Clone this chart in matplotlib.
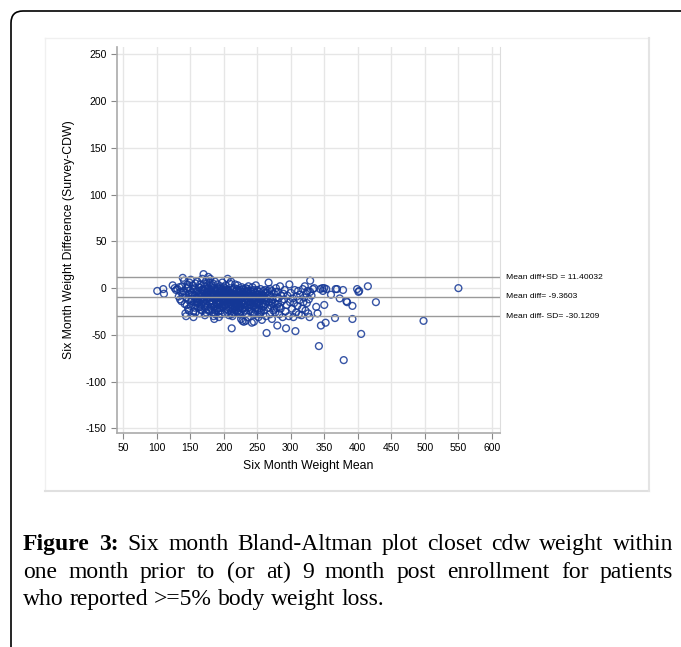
import numpy as np
import matplotlib.pyplot as plt
from matplotlib.patches import FancyBboxPatch
from matplotlib.lines import Line2D
from matplotlib.transforms import IdentityTransform

plt.rcParams['axes.unicode_minus'] = False

# DATOS (leidos a ojo del grafico)

mean_wt = [
    101, 110, 111, 124, 127, 129,
    131, 133, 134, 135, 136, 137, 138, 139, 139,
    140, 141, 142, 143, 144, 144, 145, 146, 147, 148, 148, 149,
    150, 151, 151, 152, 153, 154, 155, 155, 156, 157, 157, 158, 158, 159,
    160, 161, 161, 162, 163, 163, 164, 165, 165, 166, 167, 167, 168, 168, 169, 169, 160, 164,
    170, 170, 171, 171, 172, 172, 173, 173, 174, 174, 175, 175, 176, 176, 177, 177, 178, 178, 179, 179, 172, 176,
    180, 180, 181, 181, 182, 182, 183, 183, 184, 184, 185, 185, 186, 186, 187, 187, 188, 188, 189, 189, 183, 186, 181, 188,
    190, 190, 191, 191, 192, 192, 193, 193, 194, 194, 195, 195, 196, 196, 197, 197, 198, 198, 199, 199, 191, 195, 193, 197, 199, 190,
    200, 200, 201, 201, 202, 202, 203, 203, 204, 204, 205, 205, 206, 206, 207, 207, 208, 208, 209, 209, 201, 204, 207, 209, 203, 206,
    210, 210, 211, 211, 212, 212, 213, 213, 214, 214, 215, 215, 216, 216, 217, 217, 218, 218, 219, 219, 212, 215, 218, 213, 217, 211,
    220, 220, 221, 221, 222, 222, 223, 223, 224, 224, 225, 225, 226, 226, 227, 227, 228, 228, 229, 229, 223, 226, 228, 221,
    230, 230, 231, 231, 232, 232, 233, 233, 234, 234, 235, 235, 236, 236, 237, 237, 238, 238, 239, 239, 233, 236,
    240, 240, 241, 241, 242, 242, 243, 243, 244, 244, 245, 245, 246, 246, 247, 247, 248, 248, 249, 249,
    250, 250, 251, 251, 252, 252, 253, 253, 254, 255, 255, 256, 257, 257, 258, 259, 259, 254,
    260, 260, 261, 262, 262, 263, 264, 265, 265, 266, 267, 268, 269, 269,
    270, 271, 272, 272, 273, 274, 275, 276, 277, 278, 279, 279,
    280, 281, 281, 282, 283, 284, 285, 286, 287, 288, 289,
    290, 291, 292, 293, 294, 295, 297, 298, 299,
    300, 302, 303, 304, 305, 306, 307, 308, 309,
    310, 311, 312, 313, 314, 316, 317, 318, 319,
    320, 321, 322, 323, 324, 325, 326, 327, 328, 329, 329,
    331, 333, 335, 338, 340, 342, 344, 345, 347, 348, 350, 350, 352, 353,
    360, 366, 367, 369, 373, 378, 379, 383, 384, 392, 392, 399, 401, 402, 405, 415, 427, 498, 550,
    # nucleo denso
    145, 150, 155, 160, 165, 170, 175, 180, 185, 190, 195, 200, 205, 210, 215, 220, 225, 230, 235, 240, 245, 250, 255, 260,
    147, 152, 157, 162, 167, 172, 177, 182, 187, 192, 197, 202, 207, 212, 217, 222, 227, 232, 237, 242, 247, 252, 257, 262,
    143, 148, 153, 158, 163, 168, 173, 178, 183, 188, 193, 198, 203, 208, 213, 218, 223, 228, 233, 238, 243, 248, 253, 258, 263, 268, 273, 278, 283,
    166, 171, 176, 181, 186, 191, 196, 201, 206, 211, 216, 221, 226, 231, 236, 241, 246, 251, 256, 261, 266, 271, 276,
]

diff_wt = [
    -3, -1, -6, 3, 0, -2,
    -1, -9, 1, -12, -4, -14, 2, 11, -7,
    -3, 8, -17, -27, -10, -30, 0, 4, -22, -6, -13, 6,
    -2, 9, -19, -11, -5, 3, -25, -31, -15, 0, -8, -26, 5, -12,
    -4, 7, -16, -21, -9, 1, -27, -13, 4, -6, -18, -2, 10, -24, -10, -1, -14, -7,
    15, -3, -12, 5, -20, -8, -1, -16, 8, -26, -5, -11, 3, -19, 12, -7, -23, -2, -14, 6, -29, -9,
    -4, 10, -13, -21, 1, -9, -26, -6, 5, -17, -1, -30, -11, -33, 7, -19, -3, -24, -8, -15, 3, -27, -2, -12,
    -10, -2, -18, 4, -7, -25, -13, 0, -21, -5, 2, -16, -9, -28, -3, -12, -20, 6, -6, -14, -22, -1, -31, -8, -4, -17,
    -11, 1, -4, -19, -8, -27, 3, -14, -22, -6, -1, -16, 10, -10, -24, -3, -13, -29, -7, 5, -18, -9, -20, -15, -2, -12,
    -5, -17, -12, 7, -43, -9, -2, -22, -14, -6, -26, -10, 0, -19, 4, -8, -24, -13, -3, -16, -28, -1, -11, -30, -21, -7,
    -9, -1, -17, 3, -12, -24, -5, -15, -28, -8, -2, -20, -11, -33, 1, -14, -7, -22, -18, -4, -26, -10, -35, -13,
    -6, -36, -13, -2, -21, -9, 0, -16, -27, -11, -4, -19, -8, -31, 2, -14, -24, -6, -10, -18, -35, -1,
    -3, -15, -9, -25, -37, -6, 1, -12, -19, -8, -36, -2, -14, -28, -5, -11, -21, 3, -7, -17,
    -10, -2, -22, -6, -14, -31, -4, -18, -9, -26, -1, -12, -34, -7, -16, -3, -20, -28,
    -8, -24, -13, -2, -17, -30, -48, -5, -11, -21, 6, -15, -28, -1,
    -9, -19, -3, -33, -12, -24, -6, -16, -26, 0, -10, -21,
    -40, -4, -17, -11, -28, 2, -22, -8, -14, -31, -6,
    -12, -2, -25, -43, -18, -8, -30, 4, -15,
    -5, -22, -11, -31, -16, -2, -46, -26, -9,
    -19, -3, -28, -13, -7, -29, -22, -1, -15,
    -10, 2, -24, -6, -16, -3, -27, -12, -31, 8, -4,
    -8, -1, 0, -20, -27, -62, -1, -40, 0, -3, -18, 0, -37, -1,
    -7, -32, -1, -1, -11, -2, -77, -14, -15, -19, -33, -1, -4, -3, -49, 2, -15, -35, 0,
    # nucleo denso
    -18, -7, -1, -11, -20, -15, -4, -17, -6, -23, -11, -15, -7, -20, -16, -25, -6, -17, -13, -22, -10, -16, -13, -19,
    1, -14, -21, -3, -12, 2, -24, -8, -2, -1, -19, -3, -9, -10, -12, -3, -16, -7, -21, -12, -23, -8, -11, -5,
    -5, -24, -8, -18, -15, -6, -21, -10, -16, -28, -5, -10, -18, -5, -18, -19, -21, -1, -4, -15, -26, -13, -23, -9, -14, -7, -17, -4, -20,
    -23, -10, 0, -6, -20, -9, -24, -13, -2, -25, -4, -7, -25, -24, -3, -4, -19, -17, -24, -11, -3, -14, -22,
]

ref_vals = [11.40032, -9.3603, -30.1209]
ref_labels = ["Mean diff+SD = 11.40032", "Mean diff= -9.3603", "Mean diff- SD= -30.1209"]

x_ticks = list(range(50, 601, 50))
y_ticks = list(range(-150, 251, 50))

caption_lines = [
    "Six month Bland-Altman plot closet cdw weight within",
    "one month prior to (or at) 9 month post enrollment for patients",
    "who reported >=5% body weight loss.",
]

# FIGURA

W, H = 681, 647
fig = plt.figure(figsize=(W / 100, H / 100), dpi=100)
fig.patch.set_facecolor('white')

def px(x, y):
    # pixeles (desde arriba) -> coordenadas de figura
    return x / W, 1 - y / H

# marco exterior redondeado
marco = FancyBboxPatch((11, -40), 720, H - 11 + 40, boxstyle="round,pad=0,rounding_size=12",
                       transform=IdentityTransform(), fill=False, edgecolor='black', linewidth=1.2)
fig.patches.append(marco)

# borde suave de la imagen del grafico
for (x0, y0, x1, y1, c, lw) in [(45, 38, 45, 491, '#f0f0f0', 1), (45, 38, 649, 38, '#f0f0f0', 1),
                                 (45, 491, 649, 491, '#e0e0e0', 1.5), (649, 38, 649, 491, '#e4e4e4', 1.5)]:
    a, b = px(x0, y0)
    c2, d = px(x1, y1)
    fig.add_artist(Line2D([a, c2], [b, d], color=c, linewidth=lw))

ax = fig.add_axes([117 / W, 1 - 433 / H, (500 - 117) / W, (433 - 47) / H])
ax.set_xlim(41, 612)
ax.set_ylim(-155, 258)

ax.grid(True, color='#e6e6e6', linewidth=1)
ax.set_axisbelow(True)

ax.scatter(mean_wt, diff_wt, s=24, facecolors='none', edgecolors='#143796',
           linewidths=1.0, alpha=0.85, zorder=2)

for v, lab in zip(ref_vals, ref_labels):
    ax.axhline(v, color='#9a9a9a', linewidth=1, zorder=3)
    ax.annotate(lab, xy=(1, v), xycoords=('axes fraction', 'data'), xytext=(4, 0),
                textcoords='offset points', va='center', ha='left', fontsize=6.1,
                family='Liberation Sans', annotation_clip=False)

ax.set_xticks(x_ticks)
ax.set_yticks(y_ticks)
ax.tick_params(axis='both', labelsize=7.5, colors='#888888', labelcolor='black', length=4, width=0.8)
for lab in ax.get_xticklabels() + ax.get_yticklabels():
    lab.set_family('Liberation Sans')

for s in ['left', 'bottom']:
    ax.spines[s].set_color('#aaaaaa')
    ax.spines[s].set_linewidth(1.2)
ax.spines['right'].set_color('#dddddd')
ax.spines['top'].set_visible(False)

ax.set_xlabel('Six Month Weight Mean', fontsize=8.8, family='Liberation Sans', labelpad=5)
ax.set_ylabel('Six Month Weight Difference (Survey-CDW)', fontsize=8.8, family='Liberation Sans', labelpad=8)

# PIE DE FIGURA (justificado a mano)

fig.canvas.draw()
renderer = fig.canvas.get_renderer()
left_px, right_px = 23, 673
baselines = [550, 578, 605]
fsize = 17

def ancho(t):
    t.set_transform(IdentityTransform())
    return t.get_window_extent(renderer).width

aux = [fig.text(0, 0, 'a a', fontsize=fsize, family='Liberation Serif'),
       fig.text(0, 0, 'aa', fontsize=fsize, family='Liberation Serif')]
espacio = ancho(aux[0]) - ancho(aux[1])
for t in aux:
    t.remove()

for i, (linea, yb) in enumerate(zip(caption_lines, baselines)):
    palabras = []
    if i == 0:
        palabras.append(('Figure', 'bold'))
        palabras.append(('3:', 'bold'))
    palabras += [(w, 'normal') for w in linea.split()]
    textos = [fig.text(0, 0, w, fontsize=fsize, family='Liberation Serif', fontweight=fw,
                       va='baseline', ha='left') for w, fw in palabras]
    anchos = [ancho(t) for t in textos]
    if i < len(caption_lines) - 1:
        gap = (right_px - left_px - sum(anchos)) / (len(textos) - 1)
    else:
        gap = espacio
    x = left_px
    for t, w in zip(textos, anchos):
        t.set_transform(fig.transFigure)
        t.set_position(px(x, yb))
        x += w + gap

fig.savefig('out.png', dpi=100)
